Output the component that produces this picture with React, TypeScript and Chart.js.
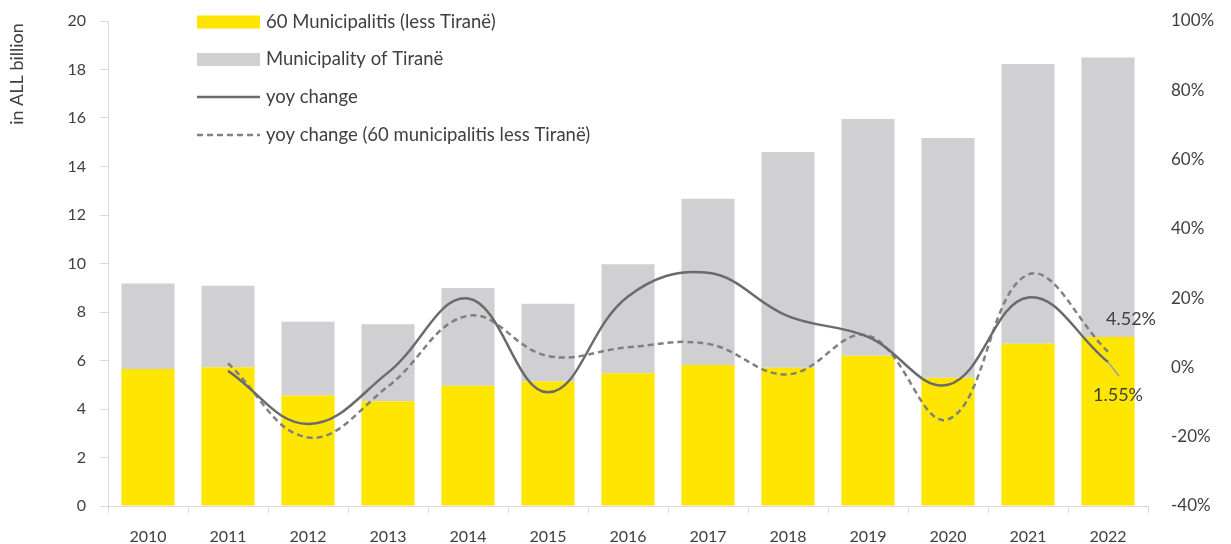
import React, { useEffect, useRef } from "react";
import { Chart, registerables } from "chart.js";

Chart.register(...registerables);

const years = ["2010", "2011", "2012", "2013", "2014", "2015", "2016", "2017", "2018", "2019", "2020", "2021", "2022"];
const municipalities60 = [5.65, 5.72, 4.56, 4.32, 4.96, 5.13, 5.47, 5.81, 5.70, 6.20, 5.29, 6.69, 6.97];
const tirana = [3.53, 3.36, 3.04, 3.18, 4.03, 3.21, 4.50, 6.86, 8.90, 9.76, 9.89, 11.54, 11.53];
const yoyTotal = [null, -1.0, -16.3, -1.5, 19.9, -7.2, 20.5, 27.3, 14.8, 8.8, -5.0, 20.2, 1.55];
const yoy60 = [null, 1.2, -20.2, -5.5, 14.9, 3.3, 5.8, 6.8, -2.0, 9.2, -15.0, 26.8, 4.52];

const seriesLabels = [
  "60 Municipalitis (less Tiranë)",
  "Municipality of Tiranë",
  "yoy change",
  "yoy change (60 municipalitis less Tiranë)",
];
const leftAxisTitle = "in ALL billion";

const FONT = "Lato, 'Open Sans', sans-serif";
const TEXT = "#404040";
const YELLOW = "#FFE600";
const GREY = "#D0CFD1";
const SOLID = "#6B6B6B";
const DASHED = "#808080";

const overlayPlugin = {
  id: "overlay",
  afterDraw(chart: any) {
    const ctx = chart.ctx;
    const area = chart.chartArea;
    const ds = chart.data.datasets;
    ctx.save();
    // axis title
    ctx.fillStyle = TEXT;
    ctx.font = `18px ${FONT}`;
    ctx.textAlign = "center";
    ctx.textBaseline = "middle";
    ctx.save();
    ctx.translate(17, 74);
    ctx.rotate(-Math.PI / 2);
    ctx.fillText(leftAxisTitle, 0, 0);
    ctx.restore();

    // legend
    const x0 = area.left + 89;
    const sw = 63;
    const rows = [22, 59.5, 97, 135];
    ctx.font = `18.5px ${FONT}`;
    ctx.textAlign = "left";
    ds.forEach((d: any, i: number) => {
      const y = rows[i];
      if (d.type === "bar") {
        ctx.fillStyle = d.backgroundColor;
        ctx.fillRect(x0, y - 6.5, sw, 13);
      } else {
        ctx.strokeStyle = d.borderColor;
        ctx.lineWidth = 2.5;
        ctx.setLineDash(d.borderDash || []);
        ctx.beginPath();
        ctx.moveTo(x0, y);
        ctx.lineTo(x0 + sw, y);
        ctx.stroke();
        ctx.setLineDash([]);
      }
      ctx.fillStyle = TEXT;
      ctx.fillText(d.label, x0 + sw + 6, y);
    });

    // end labels
    const last = years.length - 1;
    const mSolid = chart.getDatasetMeta(2).data[last];
    const mDash = chart.getDatasetMeta(3).data[last];
    ctx.font = `18px ${FONT}`;
    ctx.textAlign = "center";
    ctx.fillStyle = TEXT;
    ctx.fillText((yoy60[last] as number).toFixed(2) + "%", mDash.x + 23, mDash.y - 33);
    ctx.strokeStyle = "#A0A0A8";
    ctx.lineWidth = 1.5;
    ctx.beginPath();
    ctx.moveTo(mSolid.x, mSolid.y);
    ctx.lineTo(mSolid.x + 11, mSolid.y + 14);
    ctx.stroke();
    ctx.fillText((yoyTotal[last] as number).toFixed(2) + "%", mSolid.x + 10, mSolid.y + 33);
    ctx.restore();
  },
};

const fixVertical = (w: number) => (s: any) => {
  s.width = w;
  s.paddingTop = 0;
  s.paddingBottom = 0;
};

export default function App() {
  const ref = useRef<HTMLCanvasElement | null>(null);
  useEffect(() => {
    if (!ref.current) return;
    const chart = new Chart(ref.current, {
      type: "bar",
      data: {
        labels: years,
        datasets: [
          {
            type: "bar",
            label: seriesLabels[0],
            data: municipalities60,
            backgroundColor: YELLOW,
            yAxisID: "y",
            stack: "s",
            order: 2,
            categoryPercentage: 0.8,
            barPercentage: 0.83,
          },
          {
            type: "bar",
            label: seriesLabels[1],
            data: tirana,
            backgroundColor: GREY,
            yAxisID: "y",
            stack: "s",
            order: 2,
            categoryPercentage: 0.8,
            barPercentage: 0.83,
          },
          {
            type: "line",
            label: seriesLabels[2],
            data: yoyTotal,
            borderColor: SOLID,
            borderWidth: 2.5,
            pointRadius: 0,
            tension: 0.4,
            yAxisID: "y1",
            order: 1,
            fill: false,
          },
          {
            type: "line",
            label: seriesLabels[3],
            data: yoy60,
            borderColor: DASHED,
            borderWidth: 2.5,
            borderDash: [6, 4],
            pointRadius: 0,
            tension: 0.4,
            yAxisID: "y1",
            order: 1,
            fill: false,
          },
        ] as any,
      },
      options: {
        responsive: false,
        animation: false,
        layout: { padding: { top: 21, left: 0, right: 0, bottom: 0 } },
        plugins: {
          legend: { display: false },
          tooltip: { enabled: false },
        },
        scales: {
          x: {
            stacked: true,
            grid: {
              offset: true,
              drawOnChartArea: false,
              drawTicks: true,
              tickLength: 7,
              color: "#D9D9D9",
            },
            border: { color: "#D9D9D9", width: 1 },
            ticks: { color: TEXT, font: { family: FONT, size: 16 }, padding: 14, maxRotation: 0 },
            afterFit: (s: any) => { s.height = 38; },
          },
          y: {
            position: "left",
            stacked: true,
            min: 0,
            max: 20,
            ticks: { stepSize: 2, color: TEXT, font: { family: FONT, size: 16 }, padding: 14 },
            grid: { drawOnChartArea: false, drawTicks: true, tickLength: 8, color: "#D9D9D9" },
            border: { color: "#D9D9D9", width: 1 },
            afterFit: fixVertical(108),
          },
          y1: {
            position: "right",
            min: -40,
            max: 100,
            ticks: {
              stepSize: 20,
              color: TEXT,
              font: { family: FONT, size: 17 },
              padding: 23,
              callback: (v: any) => v + "%",
            },
            grid: { display: false, drawTicks: false },
            border: { display: false },
            afterFit: fixVertical(83),
          },
        },
      },
      plugins: [overlayPlugin],
    });
    return () => chart.destroy();
  }, []);
  return (
    <div style={{ position: "fixed", left: 0, top: 0, width: 1231, height: 544, background: "#fff" }}>
      <canvas ref={ref} width={1231} height={544} style={{ display: "block" }} />
    </div>
  );
}
